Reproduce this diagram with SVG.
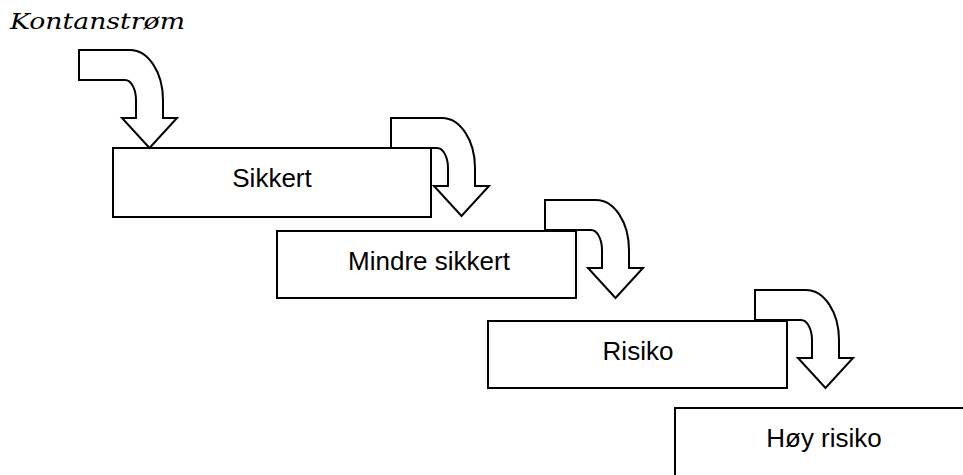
<svg xmlns="http://www.w3.org/2000/svg" width="963" height="475" viewBox="0 0 963 475">
<style>
.box{fill:#fff;stroke:#000;stroke-width:2}
.arr{fill:#fff;stroke:#000;stroke-width:2;stroke-linejoin:miter}
.lbl{font-family:"Liberation Sans",Arial,sans-serif;font-size:26px;fill:#000;text-anchor:middle}
.title{font-family:"DejaVu Serif","Liberation Serif",serif;font-style:italic;font-size:23px;fill:#000}
</style>
<defs>
<path id="bent" d="M0,0 L51,0 A33,50 0 0 1 84,50 L84,68 L98,68 L70.5,98 L43,68 L57,68 L57,50 A11,20 0 0 0 46,30 L0,30 Z"/>
</defs>
<rect width="963" height="475" fill="#fff"/>
<text class="title" x="10" y="29" textLength="175" lengthAdjust="spacingAndGlyphs">Kontanstrøm</text>
<g id="n1">
<rect class="box" x="113" y="148" width="318" height="69"/>
<text class="lbl" x="272" y="187">Sikkert</text>
</g>
<g id="n2">
<rect class="box" x="277" y="231" width="299" height="67"/>
<text class="lbl" x="429" y="270">Mindre sikkert</text>
</g>
<g id="n3">
<rect class="box" x="488" y="321" width="299" height="67"/>
<text class="lbl" x="638" y="360">Risiko</text>
</g>
<g id="n4">
<rect class="box" x="675" y="408" width="300" height="70"/>
<text class="lbl" x="824" y="447">Høy risiko</text>
</g>
<g id="connectors">
<use href="#bent" class="arr" transform="translate(79,50)"/>
<use href="#bent" class="arr" transform="translate(391,118)"/>
<use href="#bent" class="arr" transform="translate(545,200)"/>
<use href="#bent" class="arr" transform="translate(755,290)"/>
</g>
</svg>
